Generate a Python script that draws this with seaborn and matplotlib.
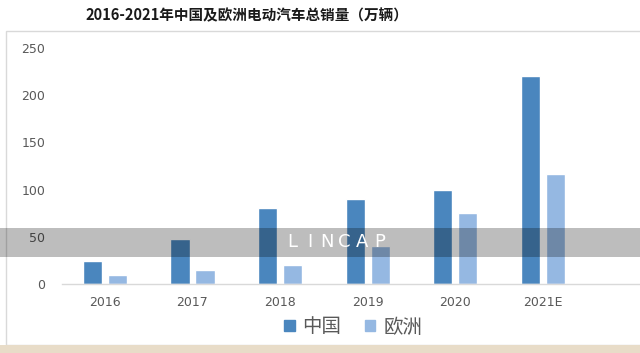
import pandas as pd
import matplotlib.pyplot as plt
import matplotlib.patches as mpatches
import seaborn as sns

# 数据
years = ['2016', '2017', '2018', '2019', '2020', '2021E']
china = [24, 48, 80, 90, 100, 220]
europe = [10, 15, 20, 40, 75, 117]
regions = ['中国', '欧洲']
y_ticks = [0, 50, 100, 150, 200, 250]
title = '2016-2021年中国及欧洲电动汽车总销量（万辆）'

df = pd.DataFrame({
    'year': years * 2,
    'region': [regions[0]] * len(years) + [regions[1]] * len(years),
    'value': china + europe,
})

sns.set_theme(style='white')
plt.rcParams['font.family'] = ['Noto Sans CJK SC', 'DejaVu Sans']
plt.rcParams['axes.unicode_minus'] = False

colors = {'中国': '#4a86be', '欧洲': '#95b8e2'}
grey = '#595959'

fig = plt.figure(figsize=(6.4, 3.53), dpi=100)
W, H = 640, 353
ax = fig.add_axes([62 / W, (H - 284) / H, (640 - 62) / W, (284 - 48) / H])

sns.barplot(data=df, x='year', y='value', hue='region', palette=colors,
            width=0.57, gap=0.23, saturation=1, ax=ax)
ax.get_legend().remove()

ax.set_xlim(-0.49, 6.11)
ax.set_ylim(0, 250)
ax.set_yticks(y_ticks)
ax.set_yticklabels([str(t) for t in y_ticks])
for lab in ax.get_xticklabels() + ax.get_yticklabels():
    lab.set_family('DejaVu Sans')
    lab.set_fontsize(9)
    lab.set_color(grey)
ax.tick_params(axis='x', length=0, pad=9)
ax.tick_params(axis='y', length=0, pad=12)
ax.set_xlabel('')
ax.set_ylabel('')
for s in ['top', 'right', 'left']:
    ax.spines[s].set_visible(False)
ax.spines['bottom'].set_color('#d9d9d9')
ax.spines['bottom'].set_linewidth(1)

# 标题
fig.text(247 / W, 1 - 15 / H, title, ha='center', va='center',
         fontsize=10.5, fontweight='bold', color='#1a1a1a')

# 图例
handles = [mpatches.Patch(color=colors[r], label=r) for r in regions]
fig.legend(handles=handles, loc='center', bbox_to_anchor=(353 / W, 1 - 327 / H),
           ncol=2, frameon=False, fontsize=14, labelcolor=grey,
           handlelength=0.55, handleheight=0.55, handletextpad=0.4,
           columnspacing=1.2)

# 外框和底部色条
fig.patches.append(mpatches.Rectangle((6 / W, 8 / H), 1.0, (H - 31 - 8) / H,
                                      transform=fig.transFigure, fill=False,
                                      edgecolor='#d9d9d9', linewidth=1))
fig.patches.append(mpatches.Rectangle((0, 0), 1, 8 / H, transform=fig.transFigure,
                                      facecolor='#e8dcc8', edgecolor='none'))

# 水印条
fig.patches.append(mpatches.Rectangle((0, (H - 257) / H), 1, 29 / H,
                                      transform=fig.transFigure, facecolor='black',
                                      alpha=0.26, edgecolor='none', zorder=10))
for i, ch in enumerate('LINCAP'):
    fig.text((292 + i * 17.5) / W, 1 - 242 / H, ch, ha='center', va='center',
             fontsize=13, color='white', family='DejaVu Sans', zorder=11)

fig.savefig('out.png', dpi=100)
